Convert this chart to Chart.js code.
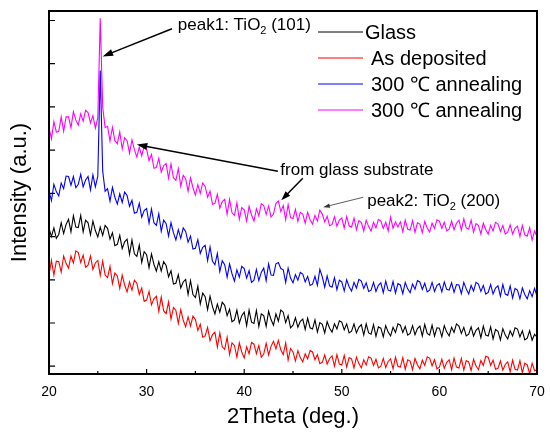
<!DOCTYPE html>
<html>
<head>
<meta charset="utf-8">
<script src="https://cdn.jsdelivr.net/npm/chart.js@4"></script>
<style>
  html, body { margin: 0; padding: 0; background: #fff; }
  #wrap { width: 550px; height: 434px; }
</style>
</head>
<body>
<div id="wrap"><canvas id="xrd" width="550" height="434"></canvas></div>
<script>
// scan grid: 20..70 deg, 0.25 deg step
const thetaStart = 20
const thetaStep = 0.25

const seriesNames = ['Glass', 'As deposited', '300 ℃ annealing', '300 ℃ annealing']
const seriesColors = ['#000000', '#ff0000', '#0000ff', '#ff00ff']

const xMajorTicks = [20, 30, 40, 50, 60, 70]
const xMinorTicks = [25, 35, 45, 55, 65]
const yTicks = [0, 100, 200, 300, 400, 500, 600, 700, 800]

// intensities (a.u., curves offset as in the figure)
const glass = [
  319, 300, 320, 296, 305, 332, 307, 328,
  340, 311, 348, 322, 321, 349, 311, 338,
  332, 304, 336, 314, 299, 322, 303, 326,
  319, 294, 309, 279, 282, 303, 272, 288,
  294, 259, 292, 260, 254, 280, 240, 265,
  258, 228, 260, 236, 220, 242, 220, 242,
  233, 207, 221, 190, 192, 212, 181, 195,
  201, 166, 198, 166, 159, 185, 144, 169,
  161, 131, 162, 138, 121, 144, 125, 148,
  141, 117, 132, 103, 107, 130, 100, 117,
  125, 94, 130, 102, 99, 129, 92, 121,
  117, 92, 127, 108, 95, 121, 104, 130,
  125, 101, 117, 89, 95, 112, 90, 104,
  109, 85, 111, 89, 86, 107, 79, 101,
  97, 77, 103, 88, 79, 98, 86, 105,
  102, 84, 98, 77, 81, 98, 77, 90,
  96, 72, 98, 77, 74, 96, 69, 91,
  88, 68, 94, 79, 70, 90, 78, 98,
  95, 78, 92, 72, 76, 94, 73, 87,
  93, 70, 97, 76, 72, 95, 70, 89,
  88, 68, 94, 79, 70, 90, 78, 98,
  93, 76, 90, 70, 74, 91, 70, 83,
  89, 66, 93, 72, 70, 91, 63, 85,
  81, 61, 87, 72, 63, 82, 70, 89,
  86, 68, 82, 61, 65, 82, 60, 74,
  67
]
const asDeposited = [
  212, 245, 211, 243, 242, 218, 255, 238,
  227, 255, 239, 267, 263, 240, 257, 229,
  234, 255, 224, 239, 245, 210, 243, 211,
  205, 231, 191, 216, 209, 180, 211, 188,
  172, 195, 176, 199, 192, 166, 181, 150,
  153, 173, 142, 156, 162, 127, 160, 128,
  122, 149, 109, 136, 129, 99, 131, 107,
  91, 114, 93, 116, 108, 83, 97, 67,
  70, 90, 59, 73, 79, 44, 77, 45,
  39, 67, 27, 54, 48, 21, 54, 33,
  19, 45, 29, 55, 51, 29, 48, 21,
  28, 53, 26, 46, 58, 40, 60, 38,
  27, 54, 14, 41, 33, 12, 36, 20,
  10, 29, 17, 36, 33, 15, 27, 6,
  9, 26, 5, 18, 24, 0, 27, 5,
  3, 25, -2, 20, 17, -4, 21, 6,
  -4, 15, 3, 22, 19, 2, 16, -4,
  0, 18, -3, 11, 17, -6, 21, 0,
  -2, 20, -7, 15, 12, -8, 18, 3,
  -6, 14, 2, 22, 19, 1, 15, -6,
  -2, 16, -5, 9, 15, -8, 19, -2,
  -4, 18, -9, 13, 10, -10, 16, 1,
  -8, 13, 2, 23, 21, 2, 14, -7,
  -5, 12, -9, 4, 10, -13, 14, -7,
  -9, 13, -15, 7, 3, -18, 7, -10,
  -9
]
const annealedA = [
  406, 383, 421, 404, 394, 424, 411, 440,
  439, 419, 439, 413, 421, 444, 415, 431,
  439, 408, 443, 415, 440, 684, 452, 405,
  411, 382, 414, 391, 375, 399, 379, 403,
  395, 370, 384, 354, 356, 377, 345, 360,
  365, 331, 364, 332, 326, 353, 312, 338,
  330, 301, 332, 309, 292, 316, 296, 320,
  312, 287, 301, 271, 273, 293, 261, 275,
  280, 244, 276, 243, 235, 261, 219, 244,
  235, 206, 237, 214, 197, 223, 206, 231,
  226, 204, 221, 194, 199, 224, 198, 217,
  227, 198, 237, 211, 210, 237, 240, 226,
  223, 194, 227, 204, 193, 212, 199, 217,
  213, 195, 208, 187, 190, 208, 187, 224,
  207, 183, 209, 186, 183, 205, 177, 199,
  195, 174, 200, 184, 174, 194, 181, 201,
  197, 180, 193, 173, 176, 194, 173, 187,
  193, 170, 197, 176, 174, 196, 169, 191,
  188, 168, 194, 179, 170, 190, 178, 198,
  195, 178, 192, 172, 176, 194, 173, 187,
  191, 172, 195, 178, 176, 193, 171, 189,
  188, 168, 194, 179, 167, 187, 174, 194,
  190, 173, 187, 167, 171, 189, 167, 181,
  186, 162, 189, 167, 164, 186, 158, 180,
  176, 156, 181, 166, 156, 175, 161, 180,
  162
]
const annealedB = [
  553, 526, 566, 542, 543, 577, 544, 577,
  577, 552, 589, 570, 558, 584, 567, 592,
  587, 563, 580, 551, 575, 805, 600, 552,
  555, 521, 553, 522, 515, 542, 503, 529,
  522, 493, 524, 501, 484, 507, 487, 510,
  502, 476, 490, 458, 460, 481, 449, 464,
  469, 435, 468, 436, 430, 457, 416, 442,
  434, 405, 436, 413, 396, 420, 400, 424,
  416, 391, 405, 375, 377, 398, 366, 381,
  386, 352, 386, 355, 349, 378, 340, 367,
  362, 336, 370, 350, 336, 364, 348, 376,
  372, 351, 371, 345, 352, 377, 382, 358,
  372, 339, 374, 344, 342, 363, 335, 356,
  352, 331, 356, 339, 329, 349, 336, 361,
  352, 334, 347, 325, 328, 346, 324, 338,
  343, 320, 346, 325, 322, 343, 316, 337,
  333, 313, 338, 323, 313, 333, 320, 340,
  336, 319, 333, 313, 345, 319, 334, 322,
  334, 311, 338, 317, 315, 337, 310, 332,
  329, 309, 335, 320, 311, 331, 319, 339,
  336, 319, 333, 313, 317, 336, 316, 331,
  338, 315, 341, 320, 317, 338, 310, 330,
  326, 306, 331, 316, 306, 326, 313, 333,
  329, 312, 326, 306, 310, 327, 306, 319,
  324, 300, 326, 304, 301, 321, 292, 313,
  300
]

const seriesValues = [glass, asDeposited, annealedA, annealedB]

const fontFamily = 'Arial, "Liberation Sans", sans-serif'

function toPoints(values) {
  return values.map((v, i) => ({ x: thetaStart + i * thetaStep, y: v }))
}

function drawArrow(ctx, x1, y1, x2, y2, lw, head) {
  const ang = Math.atan2(y2 - y1, x2 - x1)
  ctx.lineWidth = lw
  ctx.beginPath()
  ctx.moveTo(x1, y1)
  ctx.lineTo(x2 - Math.cos(ang) * head * 0.8, y2 - Math.sin(ang) * head * 0.8)
  ctx.stroke()
  ctx.beginPath()
  ctx.moveTo(x2, y2)
  ctx.lineTo(x2 - head * Math.cos(ang - 0.33), y2 - head * Math.sin(ang - 0.33))
  ctx.lineTo(x2 - head * Math.cos(ang + 0.33), y2 - head * Math.sin(ang + 0.33))
  ctx.closePath()
  ctx.fill()
}

function drawChem(ctx, parts, x, y) {
  let cx = x
  parts.forEach(([txt, size, dy]) => {
    ctx.font = size + 'px ' + fontFamily
    ctx.fillText(txt, cx, y + dy)
    cx += ctx.measureText(txt).width
  })
}

// frame, inward ticks, legend and arrows
const decorations = {
  id: 'decorations',
  afterDraw(chart) {
    const { ctx, chartArea: a, scales } = chart
    const X = v => scales.x.getPixelForValue(v)
    const Y = v => scales.y.getPixelForValue(v)
    ctx.save()
    ctx.strokeStyle = '#000'
    ctx.fillStyle = '#000'
    // box round the plot, one bar per side
    const w = a.right - a.left
    const h = a.bottom - a.top
    ctx.fillRect(a.left - 1, a.top - 1, w + 2, 2)
    ctx.fillRect(a.left - 1, a.bottom - 1, w + 2, 2)
    ctx.fillRect(a.left - 1, a.top - 1, 2, h + 2)
    ctx.fillRect(a.right - 1, a.top - 1, 2, h + 2)

    ctx.lineWidth = 1.2
    ctx.beginPath()
    xMajorTicks.forEach(v => { ctx.moveTo(X(v), a.bottom); ctx.lineTo(X(v), a.bottom - 5) })
    xMinorTicks.forEach(v => { ctx.moveTo(X(v), a.bottom); ctx.lineTo(X(v), a.bottom - 3) })
    yTicks.forEach(v => { ctx.moveTo(a.left, Y(v)); ctx.lineTo(a.left + 6, Y(v)) })
    ctx.stroke()

    // legend
    ctx.textBaseline = 'middle'
    ctx.font = '20px ' + fontFamily
    seriesNames.forEach((name, i) => {
      const ly = a.top + 21 + i * 26
      ctx.strokeStyle = seriesColors[i]
      ctx.lineWidth = 1
      ctx.beginPath()
      ctx.moveTo(a.right - 219, ly)
      ctx.lineTo(a.right - 174, ly)
      ctx.stroke()
      ctx.fillText(name, a.right - (i === 0 ? 172 : 166), ly + 1)
    })

    // annotations
    ctx.textBaseline = 'alphabetic'
    ctx.strokeStyle = '#000'
    drawChem(ctx, [['peak1: TiO', 17, 0], ['2', 11, 4], [' (101)', 17, 0]], X(33.2), Y(777))
    drawArrow(ctx, X(32.6), Y(781), X(25.5), Y(717), 1.5, 11)

    ctx.font = '17px ' + fontFamily
    ctx.fillText('from glass substrate', X(43.7), Y(442))
    drawArrow(ctx, X(43.45), Y(451), X(29.0), Y(513), 1.5, 11)
    drawArrow(ctx, X(46.0), Y(435), X(43.8), Y(384), 1.5, 10)

    drawChem(ctx, [['peak2: TiO', 17, 0], ['2', 11, 4], [' (200)', 17, 0]], X(52.6), Y(370))
    ctx.strokeStyle = '#333'
    ctx.fillStyle = '#333'
    drawArrow(ctx, X(52.2), Y(391), X(48.1), Y(368), 0.8, 7)
    ctx.restore()
  }
}

new Chart(document.getElementById('xrd'), {
  type: 'line',
  data: {
    datasets: seriesValues.map((vals, i) => ({
      label: seriesNames[i],
      data: toPoints(vals),
      borderColor: seriesColors[i],
      borderWidth: 1.1,
      pointRadius: 0,
      tension: 0,
      fill: false
    }))
  },
  options: {
    responsive: false,
    animation: false,
    devicePixelRatio: 1,
    layout: { padding: { top: 11, right: 13, left: 0, bottom: 0 } },
    plugins: { legend: { display: false }, tooltip: { enabled: false } },
    scales: {
      x: {
        type: 'linear',
        min: 20,
        max: 70,
        afterFit: s => { s.height = 60; s.paddingLeft = 0; s.paddingRight = 0 },
        afterBuildTicks: s => { s.ticks = xMajorTicks.map(v => ({ value: v })) },
        grid: { display: false, drawTicks: false },
        border: { display: false },
        ticks: { color: '#000', padding: 10, font: { size: 14, family: fontFamily } },
        title: {
          display: true,
          text: '2Theta (deg.)',
          color: '#000',
          font: { size: 22, family: fontFamily },
          padding: { top: 0, bottom: 4 }
        }
      },
      y: {
        min: -18,
        max: 822,
        afterFit: s => { s.width = 49; s.paddingTop = 0; s.paddingBottom = 0 },
        afterBuildTicks: s => { s.ticks = yTicks.map(v => ({ value: v })) },
        grid: { display: false, drawTicks: false },
        border: { display: false },
        ticks: { display: false },
        title: {
          display: true,
          text: 'Intensity (a.u.)',
          color: '#000',
          font: { size: 22, family: fontFamily },
          padding: { top: 7, bottom: 0 }
        }
      }
    }
  },
  plugins: [decorations]
})
</script>
</body>
</html>
